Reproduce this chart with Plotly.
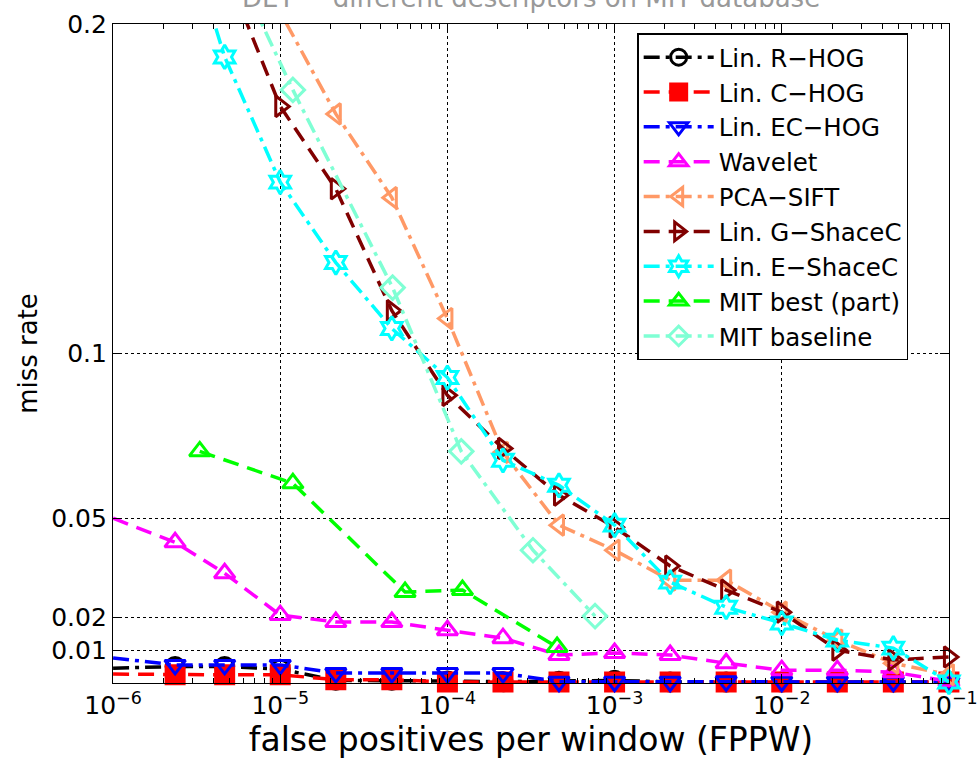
import plotly.graph_objects as go

# ---------------- data ----------------
x_fine = [1e-6, 2.35e-6, 4.65e-6, 1e-5, 2.15e-5, 4.65e-5, 1e-4, 2.15e-4, 4.65e-4,
          1e-3, 2.15e-3, 4.65e-3, 1e-2, 2.15e-2, 4.65e-2, 1e-1]

rhog_y = [0.0045, 0.0050, 0.0050, 0.0042, 0.0008, 0.0008, 0.0006, 0.0004, 0.0005,
          0.0008, 0.0003, 0.0003, 0.0003, 0.0003, 0.0003, 0.0003]
chog_y = [0.0027, 0.0025, 0.0025, 0.0025, 0.0010, 0.0010, 0.0003, 0.0003, 0.0003,
          0.0003, 0.0003, 0.0003, 0.0003, 0.0003, 0.0003, 0.0003]
echog_y = [0.0076, 0.0055, 0.0055, 0.0055, 0.0030, 0.0030, 0.0030, 0.0030, 0.0004,
           0.0004, 0.0004, 0.0005, 0.0004, 0.0004, 0.0004, 0.0003]
wavelet_y = [0.050, 0.0427, 0.0333, 0.0206, 0.0185, 0.0185, 0.0160, 0.0136, 0.0085,
             0.0091, 0.0085, 0.0060, 0.0039, 0.0039, 0.0033, 0.0005]

pca_x = [4.65e-6, 2.15e-5, 4.65e-5, 1e-4, 2.15e-4, 4.65e-4, 1e-3, 2.15e-3, 4.65e-3,
         1e-2, 2.15e-2, 4.65e-2, 1e-1]
pca_y = [0.2345, 0.1727, 0.1473, 0.1106, 0.0700, 0.0479, 0.0403, 0.0312, 0.0312,
         0.0215, 0.0130, 0.0060, 0.0025]

gsc_x = [4.65e-6, 1e-5, 2.15e-5, 4.65e-5, 1e-4, 2.15e-4, 4.65e-4, 1e-3, 2.15e-3,
         4.65e-3, 1e-2, 2.15e-2, 4.65e-2, 1e-1]
gsc_y = [0.217, 0.175, 0.150, 0.113, 0.0873, 0.0712, 0.057, 0.0473, 0.0355,
         0.0282, 0.0215, 0.0100, 0.0070, 0.0079]

esc_x = [2.15e-6, 4.65e-6, 1e-5, 2.15e-5, 4.65e-5, 1e-4, 2.15e-4, 4.65e-4, 1e-3,
         2.15e-3, 4.65e-3, 1e-2, 2.15e-2, 4.65e-2, 1e-1]
esc_y = [0.245, 0.190, 0.152, 0.1276, 0.1076, 0.0927, 0.0676, 0.060, 0.0479,
         0.0306, 0.0230, 0.0182, 0.0130, 0.0106, 0.0003]

mitbest_x = [3.3e-6, 1.19e-5, 5.58e-5, 1.23e-4, 4.53e-4]
mitbest_y = [0.0703, 0.0606, 0.0276, 0.0282, 0.0109]

mitbase_x = [4.65e-6, 1.19e-5, 4.7e-5, 1.21e-4, 3.25e-4, 7.64e-4]
mitbase_y = [0.224, 0.180, 0.120, 0.0703, 0.0403, 0.0203]

x_tick_vals = [1e-6, 1e-5, 1e-4, 1e-3, 1e-2, 1e-1]
x_tick_text = ["10<sup>−6</sup>", "10<sup>−5</sup>", "10<sup>−4</sup>",
               "10<sup>−3</sup>", "10<sup>−2</sup>", "10<sup>−1</sup>"]
y_tick_vals = [0.01, 0.02, 0.05, 0.1, 0.2]
y_tick_text = ["0.01", "0.02", "0.05", "0.1", "0.2"]

# ---------------- styling ----------------
DASH = "16px,9px"
DASHDOT = "16px,6px,4px,6px"
FONT = "DejaVu Sans, Liberation Sans, Arial, sans-serif"

series = [
    ("Lin. R−HOG", x_fine, rhog_y, "black", DASHDOT, "circle-open", True),
    ("Lin. C−HOG", x_fine, chog_y, "#ff0000", DASH, "square", True),
    ("Lin. EC−HOG", x_fine, echog_y, "#0000ff", DASHDOT, "triangle-down-open", True),
    ("Wavelet", x_fine, wavelet_y, "#ff00ff", DASH, "triangle-up-open", True),
    ("PCA−SIFT", pca_x, pca_y, "#ff9966", DASHDOT, "triangle-left-open", False),
    ("Lin. G−ShaceC", gsc_x, gsc_y, "#800000", DASH, "triangle-right-open", False),
    ("Lin. E−ShaceC", esc_x, esc_y, "#00ffff", DASHDOT, "hexagram-open", False),
    ("MIT best (part)", mitbest_x, mitbest_y, "#00ff00", DASH, "triangle-up-open", False),
    ("MIT baseline", mitbase_x, mitbase_y, "#7fffd4", DASHDOT, "diamond-open", False),
]

fig = go.Figure()
for name, xs, ys, color, dash, symbol, skip_first in series:
    sizes = []
    for i, v in enumerate(ys):
        if v > 0.2 or (skip_first and i == 0):
            sizes.append(0)
        else:
            sizes.append(18)
    fig.add_trace(go.Scatter(
        x=xs, y=ys, name=name, mode="lines+markers",
        line=dict(color=color, width=3.5, dash=dash),
        marker=dict(symbol=symbol, size=sizes, color=color, opacity=1,
                    line=dict(color=color, width=3)),
        cliponaxis=False,
    ))

fig.update_layout(
    width=977, height=762,
    margin=dict(l=113, r=28, t=24, b=79, autoexpand=False),
    paper_bgcolor="white", plot_bgcolor="white",
    font=dict(family=FONT, size=25, color="black"),
    showlegend=True,
    legend=dict(
        x=0.627, y=0.986, xanchor="left", yanchor="top",
        bgcolor="white", bordercolor="black", borderwidth=1.5,
        font=dict(family=FONT, size=24.5, color="black"),
        itemwidth=70, tracegroupgap=0,
        entrywidthmode="pixels", entrywidth=215,
    ),
    annotations=[dict(
        text="DET − different descriptors on MIT database",
        xref="paper", yref="paper", x=0.5, y=1.0137,
        xanchor="center", yanchor="bottom", showarrow=False,
        font=dict(family=FONT, size=26, color="#999999"),
    )],
)

fig.update_xaxes(
    type="log", range=[-6.0005, -0.9995], automargin=False,
    tickvals=x_tick_vals, ticktext=x_tick_text, ticklabeloverflow="allow",
    ticks="inside", ticklen=9, tickwidth=1, tickcolor="black",
    showline=True, linecolor="black", linewidth=1.2, mirror="ticks",
    showgrid=True, gridcolor="black", gridwidth=1.2, griddash="dot",
    zeroline=False,
    minor=dict(ticks="inside", ticklen=5, tickcolor="black", tickwidth=1,
               showgrid=False,
               tickvals=[m * 10 ** e for e in range(-6, -1) for m in range(2, 10)]),
    title=dict(text="false positives per window (FPPW)", font=dict(size=33), standoff=2),
    tickfont=dict(size=25),
)
fig.update_yaxes(
    range=[0, 0.2], automargin=False,
    tickvals=y_tick_vals, ticktext=y_tick_text,
    ticks="inside", ticklen=9, tickwidth=1, tickcolor="black",
    showline=True, linecolor="black", linewidth=1.2, mirror="ticks",
    showgrid=True, gridcolor="black", gridwidth=1.2, griddash="dot",
    zeroline=False,
    title=dict(text="miss rate", font=dict(size=26), standoff=6),
    tickfont=dict(size=25),
)

fig.write_html("out.html", config={"displayModeBar": False},
               post_script="document.body.style.margin='0px';")
